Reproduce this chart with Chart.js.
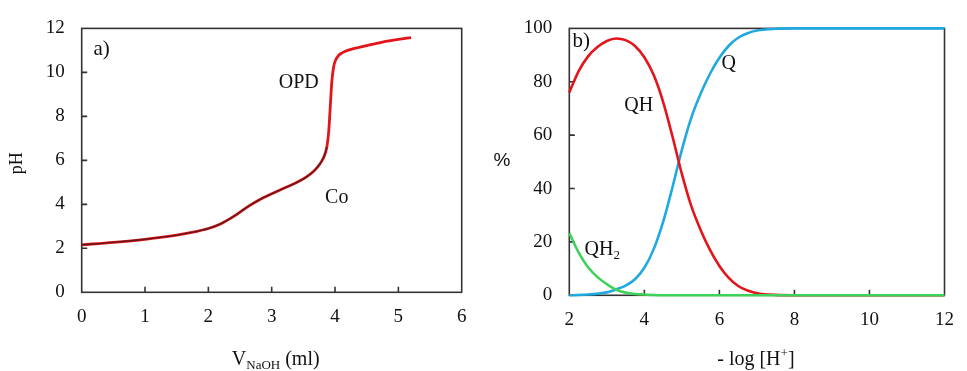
<!DOCTYPE html>
<html>
<head>
<meta charset="utf-8">
<script src="https://cdn.jsdelivr.net/npm/chart.js@4.4.0/dist/chart.umd.min.js"></script>
<style>
  html, body { margin: 0; padding: 0; background: #fff; }
  #wrap { position: relative; width: 967px; height: 371px; overflow: hidden; }
  canvas { position: absolute; top: 0; }
</style>
</head>
<body>
<div id="wrap">
  <canvas id="c1" width="480" height="371" style="left:0px"></canvas>
  <canvas id="c2" width="487" height="371" style="left:480px"></canvas>
</div>
<script>
// ---------- Panel a) titration curve ----------
const volumeMl = [0, 0.5, 1.0, 1.5, 1.8, 2.0, 2.2, 2.4, 2.6, 2.8, 3.0, 3.2, 3.4, 3.55, 3.65, 3.72, 3.78, 3.83, 3.87, 3.9, 3.92, 3.95, 3.975, 4.0, 4.05, 4.12, 4.2, 4.35, 4.5, 4.75, 5.0, 5.2];
const phValues = [2.16, 2.27, 2.41, 2.6, 2.76, 2.9, 3.12, 3.45, 3.85, 4.2, 4.48, 4.74, 5.0, 5.25, 5.47, 5.68, 5.92, 6.2, 6.6, 7.3, 8.2, 9.6, 10.2, 10.5, 10.75, 10.9, 11.0, 11.12, 11.22, 11.38, 11.5, 11.58];
const darkPartCount = 19; // experimental (dark) part of the curve, lower region

const leftXTicks = [0, 1, 2, 3, 4, 5, 6];
const leftYTicks = [0, 2, 4, 6, 8, 10, 12];

// ---------- Panel b) species distribution ----------
const minusLogH = [2, 2.25, 2.5, 2.75, 3, 3.25, 3.5, 3.75, 4, 4.25, 4.5, 4.75, 5, 5.25, 5.5, 5.75, 6, 6.25, 6.5, 6.75, 7, 7.5, 8, 9, 10, 11, 12];
const pctQH2 = [23.3, 16, 10.5, 6.8, 4.2, 2.1, 1.0, 0.5, 0.3, 0.1, 0, 0, 0, 0, 0, 0, 0, 0, 0, 0, 0, 0, 0, 0, 0, 0, 0];
const pctQH  = [76, 84, 89.5, 93, 95.3, 96.2, 95.6, 93.4, 89.2, 82.5, 72.5, 59.5, 45.5, 33.5, 24.5, 17, 11, 6.5, 3.5, 1.8, 0.8, 0.15, 0, 0, 0, 0, 0];
const pctQ   = [0, 0.1, 0.3, 0.6, 1.1, 2.2, 3.6, 6.0, 10.3, 17.3, 27.5, 40.5, 54.5, 66.5, 75.5, 83, 89, 93.5, 96.5, 98.2, 99.2, 99.85, 100, 100, 100, 100, 100];

const rightXTicks = [2, 4, 6, 8, 10, 12];
const rightYTicks = [0, 20, 40, 60, 80, 100];

const SERIF = "'Liberation Serif', 'Times New Roman', serif";
const SANS = "'Liberation Sans', Arial, sans-serif";

const pts = (xs, ys) => xs.map((x, i) => ({ x: x, y: ys[i] }));

// frame + inward tick marks
const framePlugin = {
  id: 'frame',
  beforeDatasetsDraw(chart, args, opts) {
    const { ctx, chartArea: a, scales } = chart;
    ctx.save();
    ctx.strokeStyle = '#333';
    ctx.lineWidth = 1.6;
    ctx.strokeRect(a.left, a.top, a.right - a.left, a.bottom - a.top);
    const tl = 5.5;
    ctx.beginPath();
    opts.xTicks.forEach(v => {
      const px = scales.x.getPixelForValue(v);
      if (px > a.left + 1 && px < a.right - 1) { ctx.moveTo(px, a.bottom); ctx.lineTo(px, a.bottom - tl); }
    });
    opts.yTicks.forEach(v => {
      const py = scales.y.getPixelForValue(v);
      if (py > a.top + 1 && py < a.bottom - 1) { ctx.moveTo(a.left, py); ctx.lineTo(a.left + tl, py); }
    });
    ctx.stroke();
    ctx.restore();
  }
};

// rich text (sub/superscripts)
function drawRich(ctx, parts, x, y, align, size, family, color) {
  const subSize = Math.round(size * 0.65);
  const fontOf = p => (p.sub || p.sup ? subSize : size) + 'px ' + family;
  let total = 0;
  const widths = parts.map(p => { ctx.font = fontOf(p); const w = ctx.measureText(p.t).width; total += w; return w; });
  let cx = align === 'center' ? x - total / 2 : (align === 'right' ? x - total : x);
  ctx.textAlign = 'left';
  ctx.textBaseline = 'alphabetic';
  ctx.fillStyle = color || '#111';
  parts.forEach((p, i) => {
    ctx.font = fontOf(p);
    let dy = 0;
    if (p.sub) dy = size * 0.22;
    if (p.sup) dy = -size * 0.38;
    ctx.fillText(p.t, cx, y + dy);
    cx += widths[i];
  });
}

const textPlugin = {
  id: 'texts',
  afterDraw(chart, args, opts) {
    const { ctx, chartArea: a, scales } = chart;
    ctx.save();
    (opts.items || []).forEach(it => {
      let x, y;
      if (it.data) {
        x = scales.x.getPixelForValue(it.data[0]);
        y = scales.y.getPixelForValue(it.data[1]);
      } else {
        x = it.fx(a); y = it.fy(a);
      }
      if (it.rotate) {
        ctx.save();
        ctx.translate(x, y);
        ctx.rotate(it.rotate);
        drawRich(ctx, it.parts, 0, 0, it.align, it.size, it.family || SERIF);
        ctx.restore();
      } else {
        drawRich(ctx, it.parts, x, y, it.align, it.size, it.family || SERIF);
      }
    });
    ctx.restore();
  }
};

function axisCfg(min, max, tickArr, isY, size) {
  return {
    type: 'linear',
    min: min, max: max,
    afterBuildTicks: s => { s.ticks = tickArr.map(v => ({ value: v })); },
    afterFit: s => { if (isY) s.width = size; else s.height = size; },
    grid: { display: false, drawTicks: false, tickLength: 0 },
    border: { display: false },
    ticks: {
      color: '#111',
      font: { family: SERIF, size: 19 },
      padding: isY ? 17 : 13,
      maxRotation: 0,
      autoSkip: false
    }
  };
}

Chart.register(framePlugin, textPlugin);

// ---------- chart a ----------
new Chart(document.getElementById('c1'), {
  type: 'line',
  data: {
    datasets: [
      {
        data: pts(volumeMl.slice(0, darkPartCount), phValues.slice(0, darkPartCount)),
        borderColor: 'rgba(45,25,25,0.7)', borderWidth: 1.4, pointRadius: 0,
        cubicInterpolationMode: 'monotone', order: 0
      },
      {
        data: pts(volumeMl, phValues),
        borderColor: '#e3141a', borderWidth: 2.8, pointRadius: 0,
        cubicInterpolationMode: 'monotone', order: 1
      }
    ]
  },
  options: {
    responsive: false, animation: false,
    layout: { padding: { left: 0, top: 20.7, right: 18.3, bottom: 0 } },
    scales: {
      x: axisCfg(0, 6, leftXTicks, false, 78.7),
      y: axisCfg(0, 12, leftYTicks, true, 81.7)
    },
    plugins: {
      legend: { display: false }, tooltip: { enabled: false },
      frame: { xTicks: leftXTicks, yTicks: leftYTicks },
      texts: {
        items: [
          { parts: [{ t: 'a)' }], data: [0.186, 10.77], align: 'left', size: 21 },
          { parts: [{ t: 'OPD' }], data: [3.428, 9.305], align: 'center', size: 20 },
          { parts: [{ t: 'Co' }], data: [4.027, 4.078], align: 'center', size: 20 },
          { parts: [{ t: 'V' }, { t: 'NaOH', sub: true }, { t: ' (ml)' }], fx: a => (a.left + a.right) / 2 + 4, fy: a => 364.5, align: 'center', size: 20 },
          { parts: [{ t: 'pH' }], fx: a => 21.5, fy: a => (a.top + a.bottom) / 2 + 3, align: 'center', size: 18, rotate: -Math.PI / 2 }
        ]
      }
    }
  }
});

// ---------- chart b ----------
new Chart(document.getElementById('c2'), {
  type: 'line',
  data: {
    datasets: [
      { label: 'QH2', data: pts(minusLogH, pctQH2), borderColor: '#3fd159', borderWidth: 2.6, pointRadius: 0, cubicInterpolationMode: 'monotone', clip: false, order: 0 },
      { label: 'QH', data: pts(minusLogH, pctQH), borderColor: '#e3141a', borderWidth: 2.6, pointRadius: 0, cubicInterpolationMode: 'monotone', clip: false, order: 1 },
      { label: 'Q', data: pts(minusLogH, pctQ), borderColor: '#1fa9df', borderWidth: 2.6, pointRadius: 0, cubicInterpolationMode: 'monotone', clip: false, order: 2 }
    ]
  },
  options: {
    responsive: false, animation: false,
    layout: { padding: { left: 0, top: 22, right: 10.3, bottom: 0 } },
    scales: {
      x: axisCfg(2, 12, rightXTicks, false, 75.7),
      y: axisCfg(0, 100, rightYTicks, true, 89.3)
    },
    plugins: {
      legend: { display: false }, tooltip: { enabled: false },
      frame: { xTicks: rightXTicks, yTicks: rightYTicks },
      texts: {
        items: [
          { parts: [{ t: 'b)' }], data: [2.088, 92.93], align: 'left', size: 21 },
          { parts: [{ t: 'QH' }], data: [3.851, 69.07], align: 'center', size: 20 },
          { parts: [{ t: 'Q' }], data: [6.251, 84.88], align: 'center', size: 20 },
          { parts: [{ t: 'QH' }, { t: '2', sub: true }], data: [2.405, 15.11], align: 'left', size: 20 },
          { parts: [{ t: '- log [H' }, { t: '+', sup: true }, { t: ']' }], fx: a => (a.left + a.right) / 2 - 1, fy: a => 365, align: 'center', size: 20 },
          { parts: [{ t: '%' }], fx: a => 22, fy: a => 166, align: 'center', size: 19, family: SANS }
        ]
      }
    }
  }
});
</script>
</body>
</html>
